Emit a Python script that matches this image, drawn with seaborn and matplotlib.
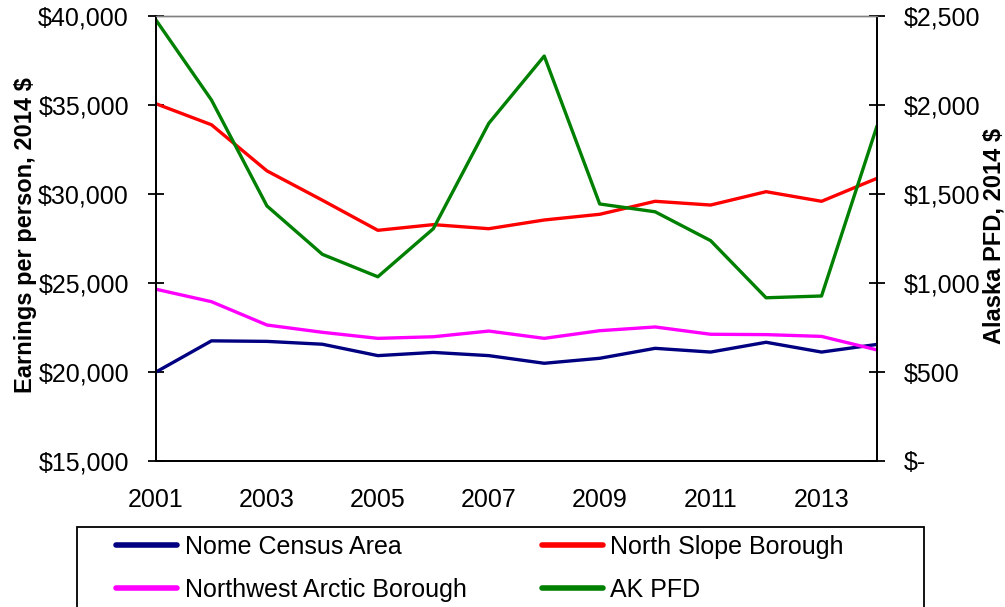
import pandas as pd
import numpy as np
import matplotlib
matplotlib.use("Agg")
import matplotlib.pyplot as plt
from matplotlib.ticker import FuncFormatter, MultipleLocator
from matplotlib.patches import Rectangle
import seaborn as sns

sns.set_style("white")
plt.rcParams['font.family'] = ['Liberation Sans', 'DejaVu Sans']
plt.rcParams['text.color'] = 'black'

years = list(range(2001, 2015))

# earnings per person, 2014 $ (left axis)
nome = [20000, 21750, 21720, 21560, 20920, 21100, 20920, 20490, 20770, 21330, 21120, 21670, 21120, 21550]
north_slope = [35070, 33890, 31300, 29650, 27960, 28280, 28050, 28540, 28860, 29590, 29380, 30130, 29590, 30880]
nw_arctic = [24650, 23950, 22640, 22230, 21890, 21980, 22300, 21890, 22320, 22530, 22120, 22100, 22000, 21240]

# Alaska PFD, 2014 $ (right axis)
ak_pfd = [2477, 2028, 1433, 1161, 1035, 1305, 1897, 2275, 1444, 1400, 1238, 917, 927, 1882]

df = pd.DataFrame({'year': years, 'Nome Census Area': nome, 'North Slope Borough': north_slope,
                   'Northwest Arctic Borough': nw_arctic, 'AK PFD': ak_pfd})

fig = plt.figure(figsize=(10.05, 6.07), dpi=100)
ax = fig.add_axes([156/1005, 1-461/607, (877-156)/1005, (461-16)/607])
ax2 = ax.twinx()

lw = 2.4
sns.lineplot(data=df, x='year', y='Nome Census Area', color='#000080', lw=lw, ax=ax, label='Nome Census Area', legend=False)
sns.lineplot(data=df, x='year', y='Northwest Arctic Borough', color='#FF00FF', lw=lw, ax=ax, label='Northwest Arctic Borough', legend=False)
sns.lineplot(data=df, x='year', y='North Slope Borough', color='#FF0000', lw=lw, ax=ax, label='North Slope Borough', legend=False)
sns.lineplot(data=df, x='year', y='AK PFD', color='#008000', lw=lw, ax=ax2, label='AK PFD', legend=False)

ax.set_xlim(2001, 2014)
ax.set_ylim(15000, 40000)
ax2.set_ylim(0, 2500)
ax.yaxis.set_major_locator(MultipleLocator(5000))
ax2.yaxis.set_major_locator(MultipleLocator(500))
ax.yaxis.set_major_formatter(FuncFormatter(lambda v, p: '${:,.0f}'.format(v)))
ax2.yaxis.set_major_formatter(FuncFormatter(lambda v, p: '$-' if v == 0 else '${:,.0f}'.format(v)))

ax.set_xticks(years)
ax.set_xticklabels([str(y) if y % 2 == 1 else '' for y in years])

for a in (ax, ax2):
    a.set_xlabel('')
    a.set_ylabel('')
    for s in ['left', 'right', 'bottom']:
        a.spines[s].set_color('black')
        a.spines[s].set_linewidth(1.3)
    a.spines['top'].set_color('#808080')
    a.spines['top'].set_linewidth(1.0)

ax.tick_params(axis='y', direction='inout', length=11, width=1.3, pad=14, labelsize=18, colors='black')
ax2.tick_params(axis='y', direction='inout', length=11, width=1.3, pad=14, labelsize=18, colors='black')
ax.tick_params(axis='x', direction='inout', length=11, width=1.3, pad=14, labelsize=18, colors='black')

fig.text(26/1005, 1-235/607, 'Earnings per person, 2014 $', rotation=90, ha='center', va='center',
         fontsize=17, fontweight='bold')
fig.text(994/1005, 1-236/607, 'Alaska PFD, 2014 $', rotation=90, ha='center', va='center',
         fontsize=17, fontweight='bold')

# legend frame runs off the bottom of the figure, like the reference
fig.patches.append(Rectangle((77/1005, -0.05), (924-77)/1005, 1-527/607+0.05, transform=fig.transFigure,
                             fill=False, edgecolor='black', linewidth=1.3))

h1, l1 = ax.get_legend_handles_labels()
h2, l2 = ax2.get_legend_handles_labels()
handles = [h1[0], h1[1], h1[2], h2[0]]
labels = [l1[0], l1[1], l1[2], l2[0]]
leg = fig.legend(handles, labels, ncol=2, loc='upper left',
                 bbox_to_anchor=(116/1005, 1-535/607), frameon=False,
                 fontsize=18, handlelength=2.45, handletextpad=0.3, borderpad=0,
                 labelspacing=0.75, columnspacing=3.0, borderaxespad=0)
for line in leg.get_lines():
    line.set_linewidth(4)

fig.savefig('out.png', dpi=100)
